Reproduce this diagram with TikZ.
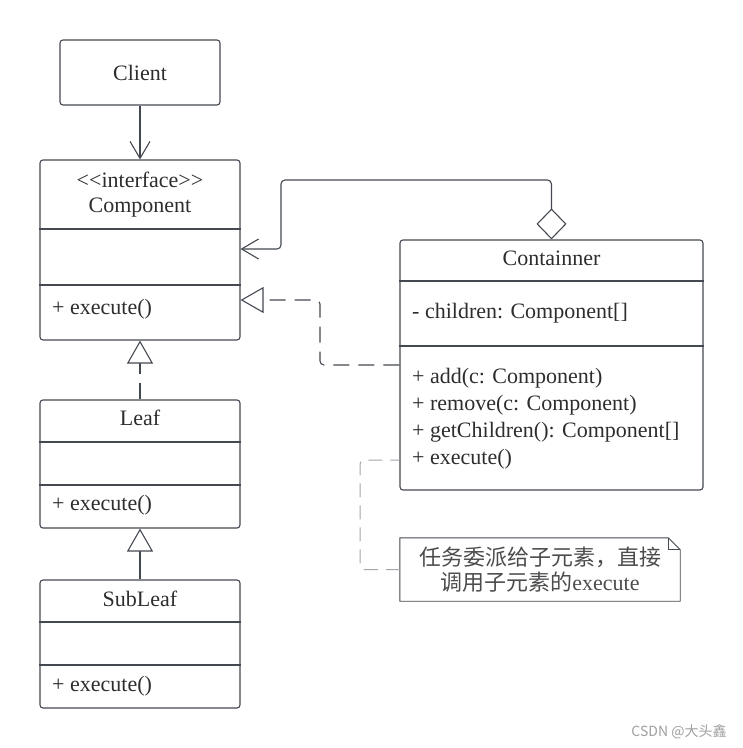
\documentclass[tikz,border=0pt]{standalone}
\usepackage{fontspec}
\setmainfont{Liberation Serif}
\newfontfamily\cjk{Noto Sans CJK SC}
\usetikzlibrary{arrows.meta,positioning}
\definecolor{umlline}{RGB}{68,72,80}
\definecolor{umltext}{RGB}{45,45,48}
\definecolor{linkgray}{RGB}{165,165,170}
\tikzset{
  classbox/.style={draw=umlline,line width=1.1pt,rounded corners=3pt,inner sep=0pt,text=umltext},
  classname/.style={inner sep=0pt,text=umltext,text height=15pt,text depth=5pt},
  member/.style={classname,anchor=west},
  divider/.style={draw=umlline,line width=1.1pt},
  uses/.style={draw=umlline,line width=1.1pt,-{Straight Barb[length=17pt,width=20pt]}},
  inherit/.style={draw=umlline,line width=1.1pt,-{Triangle[open,length=23pt,width=26pt,fill=white]}},
  realize/.style={inherit,dash pattern=on 16pt off 9pt,rounded corners=4pt},
  aggreg/.style={uses,rounded corners=4pt,{Diamond[open,length=31pt,width=30pt,fill=white]}-{Straight Barb[length=17pt,width=20pt]}},
  notelink/.style={draw=linkgray,line width=1pt,dash pattern=on 14pt off 8pt,rounded corners=4pt}
}

\begin{document}
\begin{tikzpicture}[x=1pt,y=-1pt,font=\fontsize{22}{26}\selectfont]
  \useasboundingbox (0,0) rectangle (743,748);
  %\draw[very thin,lightgray] (0,0) grid[step=50] (743,748);

  \node[classbox,minimum width=160pt,minimum height=65pt] (client) at (140,72.5) {Client};

  \node[classbox,minimum width=200pt,minimum height=180pt] (comp) at (140,250) {};
  \node[classname] (compstereo) at (140,182) {\textless\kern0pt\textless interface\textgreater\kern0pt\textgreater};
  \node[classname] (compname) at (140,207) {Component};
  \draw[divider] (comp.west |- 0,229) -- (comp.east |- 0,229);
  \draw[divider] (comp.west |- 0,285) -- (comp.east |- 0,285);
  \node[member] (compexec) at (52,309) {+ execute()};

  \node[classbox,minimum width=200pt,minimum height=128pt] (leaf) at (140,464) {};
  \node[classname] (leafname) at (140,420) {Leaf};
  \draw[divider] (leaf.west |- 0,442) -- (leaf.east |- 0,442);
  \draw[divider] (leaf.west |- 0,485) -- (leaf.east |- 0,485);
  \node[member] (leafexec) at (52,505) {+ execute()};

  \node[classbox,minimum width=200pt,minimum height=128pt] (subleaf) at (140,644) {};
  \node[classname] (subleafname) at (140,601) {SubLeaf};
  \draw[divider] (subleaf.west |- 0,622) -- (subleaf.east |- 0,622);
  \draw[divider] (subleaf.west |- 0,665) -- (subleaf.east |- 0,665);
  \node[member] (subleafexec) at (52,686) {+ execute()};

  \node[classbox,minimum width=303pt,minimum height=250pt] (cont) at (551.5,365) {};
  \node[classname] (contname) at (551.5,260) {Containner};
  \draw[divider] (cont.west |- 0,281) -- (cont.east |- 0,281);
  \draw[divider] (cont.west |- 0,346) -- (cont.east |- 0,346);
  \node[member] (contkids) at (412,313) {- children: Component[]};
  \node[member] (contadd) at (412,378) {+ add(c: Component)};
  \node[member] (contremove) at (412,405) {+ remove(c: Component)};
  \node[member] (contget) at (412,432) {+ getChildren(): Component[]};
  \node[member] (contexec) at (412,459) {+ execute()};

  % note with folded corner
  \node[minimum width=280pt,minimum height=63pt,inner sep=0pt] (note) at (540,569.5) {};
  \draw[umlline,line width=0.9pt] (note.south west) -- (note.north west) -- ([xshift=-12pt]note.north east)
    -- ([yshift=-12pt]note.north east) -- (note.south east) -- cycle;
  \draw[umlline,line width=0.9pt] ([xshift=-12pt]note.north east) |- ([yshift=-12pt]note.north east);
  \node[align=center,text=umltext!85,font=\fontsize{22}{25}\selectfont] (notetext) at (note)
    {{\cjk 任务委派给子元素，直接}\\{\cjk 调用子元素的}\rmfamily execute};

  \draw[uses] (client) -- (comp);
  \draw[realize] (leaf) -- (comp);
  \draw[inherit] (subleaf) -- (leaf);
  \draw[aggreg] (cont.north) |- (281,180) |- (comp.east |- 0,249);
  \draw[realize] (cont.west |- 0,365) -| (320,300) -- (comp.east |- 0,300);
  \draw[notelink] (note.west) -| (360,460) -- (cont.west |- 0,460);

  \node[text=gray!75,font=\cjk\fontsize{14}{16}\selectfont] (mark) at (679,732) {CSDN @大头鑫};
\end{tikzpicture}
\end{document}
